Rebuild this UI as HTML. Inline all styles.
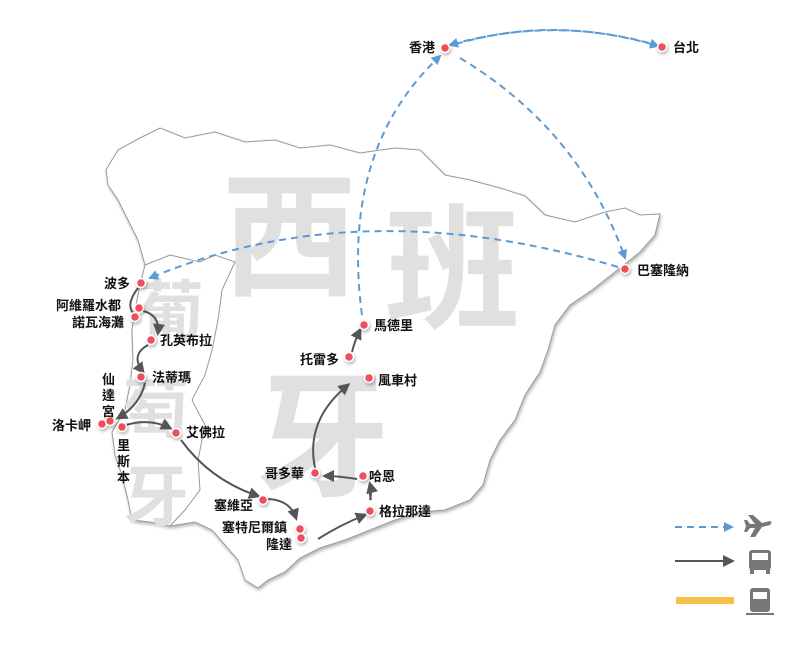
<!DOCTYPE html>
<html><head><meta charset="utf-8"><style>
body{margin:0;background:#fff;}
svg text{font-family:"Liberation Sans","Noto Sans CJK TC",sans-serif;}
</style></head><body>
<svg width="800" height="640" viewBox="0 0 800 640" xmlns="http://www.w3.org/2000/svg">
<defs>
<marker id="ab" markerWidth="10" markerHeight="10" refX="8" refY="5" orient="auto" markerUnits="userSpaceOnUse"><path d="M0,0 L10,5 L0,10 z" fill="#5b9bd5"/></marker>
<marker id="ag" markerWidth="12" markerHeight="12" refX="9" refY="6" orient="auto" markerUnits="userSpaceOnUse"><path d="M0,0 L12,6 L0,12 z" fill="#555"/></marker>
<filter id="sh"><feDropShadow dx="1" dy="2" stdDeviation="1.5" flood-color="#000" flood-opacity="0.3"/></filter>
</defs>
<path filter="url(#sh)" d="M106,170 L118,150 L140,138 L160,128 L185,138 L215,132 L245,142 L275,140 L300,148 L330,145 L360,153 L395,148 L420,150 L430,160 L445,175 L470,180 L500,188 L525,196 L545,215 L575,222 L605,212 L625,208 L640,215 L660,214 L655,235 L640,252 L615,272 L592,290 L570,305 L555,325 L548,350 L540,372 L525,395 L515,420 L500,440 L490,460 L483,485 L470,500 L445,510 L420,512 L395,520 L370,530 L345,540 L320,548 L300,558 L285,572 L268,580 L258,588 L245,580 L238,560 L225,545 L212,530 L195,522 L170,526 L150,522 L132,520 L128,500 L122,475 L115,455 L112,432 L125,410 L130,385 L133,360 L132,330 L136,305 L140,285 L145,265 L138,240 L128,220 L118,200 L108,185 Z" fill="#fff" stroke="#999" stroke-width="1"/>
<path d="M145,265 L170,255 L200,262 L215,255 L235,262 L222,290 L218,320 L212,350 L205,375 L192,400 L205,425 L198,460 L200,490 L185,510 L170,526" fill="none" stroke="#999" stroke-width="1"/>
<g fill="#e0e0e0" font-weight="bold">
<text x="222" y="285" font-size="135">西</text>
<text x="385" y="318" font-size="135">班</text>
<text x="255" y="485" font-size="135">牙</text>
<text x="138" y="335" font-size="66">葡</text>
<text x="123" y="432" font-size="66">萄</text>
<text x="123" y="520" font-size="66">牙</text>
</g>
<g fill="none" stroke="#5b9bd5" stroke-width="2" stroke-dasharray="7,5">
<path d="M660,46 Q555,15 450,45" marker-end="url(#ab)"/>
<path d="M456,44 Q555,15 658,46" marker-end="url(#ab)"/>
<path d="M460,58 Q580,130 625,258" marker-end="url(#ab)"/>
<path d="M362,315 Q340,150 440,56" marker-end="url(#ab)"/>
<path d="M618,267 Q360,190 150,278" marker-end="url(#ab)"/>
</g>
<g fill="none" stroke="#555" stroke-width="2">
<path d="M138,288 Q125,305 134,314"/>
<path d="M143,311 Q160,315 158,333" marker-end="url(#ag)"/>
<path d="M148,345 Q130,355 143,372" marker-end="url(#ag)"/>
<path d="M145,383 Q140,405 118,418" marker-end="url(#ag)"/>
<path d="M126,425 Q150,418 170,428" marker-end="url(#ag)"/>
<path d="M181,440 Q210,480 258,496" marker-end="url(#ag)"/>
<path d="M268,499 Q290,500 296,518" marker-end="url(#ag)"/>
<path d="M318,539 Q340,525 365,515" marker-end="url(#ag)"/>
<path d="M371,500 Q368,485 370,487" />
<path d="M370,500 Q372,492 370,484" marker-end="url(#ag)"/>
<path d="M357,479 Q338,476 325,476" marker-end="url(#ag)"/>
<path d="M315,468 Q305,420 348,385" marker-end="url(#ag)"/>
<path d="M352,352 Q355,340 360,330" marker-end="url(#ag)"/>
</g>
<g fill="#f0505a" stroke="#fff" stroke-width="1.5" filter="url(#sh)">
<circle cx="445" cy="48" r="4.5"/><circle cx="662" cy="47" r="4.5"/><circle cx="625" cy="269" r="4.5"/>
<circle cx="141" cy="283" r="4.5"/><circle cx="139" cy="308" r="4.5"/><circle cx="135" cy="317" r="4.5"/>
<circle cx="151" cy="340" r="4.5"/><circle cx="141" cy="377" r="4.5"/><circle cx="102" cy="424" r="4.5"/>
<circle cx="110" cy="421" r="4.5"/><circle cx="122" cy="427" r="4.5"/><circle cx="176" cy="433" r="4.5"/>
<circle cx="263" cy="500" r="4.5"/><circle cx="300" cy="529" r="4.5"/><circle cx="301" cy="538" r="4.5"/>
<circle cx="370" cy="511" r="4.5"/><circle cx="363" cy="476" r="4.5"/><circle cx="315" cy="473" r="4.5"/>
<circle cx="369" cy="378" r="4.5"/><circle cx="349" cy="357" r="4.5"/><circle cx="364" cy="325" r="4.5"/>
</g>
<g font-size="13" font-weight="bold" fill="#111">
<text x="409" y="52">香港</text><text x="673" y="52">台北</text><text x="637" y="275">巴塞隆納</text>
<text x="104" y="288">波多</text><text x="56" y="310">阿維羅水都</text><text x="72" y="327">諾瓦海灘</text>
<text x="160" y="345">孔英布拉</text><text x="152" y="382">法蒂瑪</text>
<text x="102" y="384">仙</text><text x="102" y="400">達</text><text x="102" y="416">宮</text>
<text x="52" y="430">洛卡岬</text>
<text x="117" y="450">里</text><text x="117" y="466">斯</text><text x="117" y="482">本</text>
<text x="186" y="437">艾佛拉</text>
<text x="214" y="510">塞維亞</text><text x="222" y="532">塞特尼爾鎮</text><text x="266" y="549">隆達</text>
<text x="379" y="516">格拉那達</text><text x="369" y="481">哈恩</text><text x="265" y="478">哥多華</text>
<text x="378" y="385">風車村</text><text x="300" y="364">托雷多</text><text x="374" y="330">馬德里</text>
</g>
<path d="M675,527 L732,527" stroke="#5b9bd5" stroke-width="2" stroke-dasharray="7,5" marker-end="url(#ab)"/>
<path d="M675,561 L732,561" stroke="#555" stroke-width="2" marker-end="url(#ag)"/>
<rect x="676" y="597" width="58" height="7" fill="#f7c046"/>
<g fill="#777">
<path d="M748,515 L753,515 L762,523 L770,521 Q773,522 770,525 L762,527 L755,537 L750,537 L755,528 L750,528 L747,532 L744,532 L746,526 L744,520 L747,520 L750,524 L755,524 Z"/>
<rect x="749" y="550" width="22" height="20" rx="3"/>
<rect x="750" y="569" width="4" height="5"/><rect x="766" y="569" width="4" height="5"/>
<rect x="752" y="553" width="16" height="7" fill="#fff"/>
<rect x="750" y="588" width="20" height="24" rx="3"/>
<rect x="753" y="592" width="14" height="7" fill="#fff"/>
<rect x="746" y="613" width="28" height="2"/>
</g>
</svg>
</body></html>
